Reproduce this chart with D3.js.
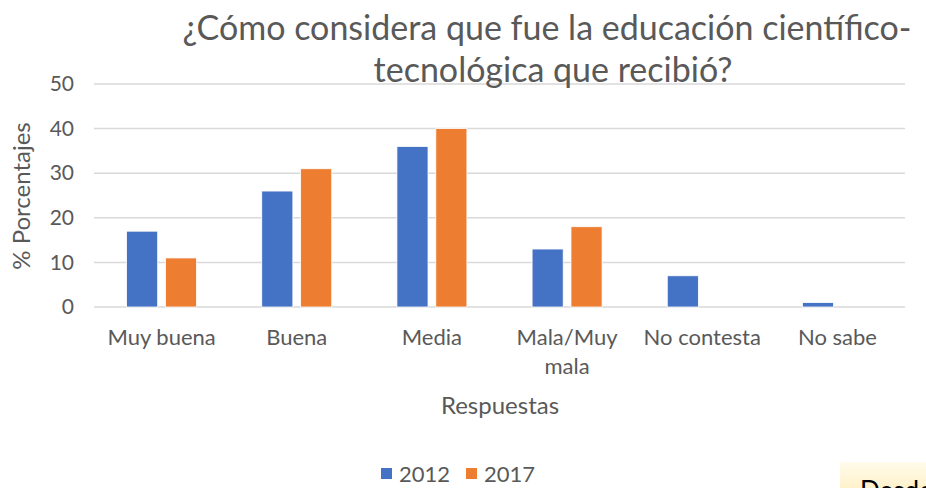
<!DOCTYPE html>
<html>
<head>
<meta charset="utf-8">
<script src="https://cdn.jsdelivr.net/npm/d3@7"></script>
<style>
  body { margin: 0; background: #fff; }
  svg { display: block; font-family: Lato, "Open Sans", sans-serif; }
</style>
</head>
<body>
<svg id="svg" width="926" height="488"></svg>
<script>
var categories = ["Muy buena", "Buena", "Media", "Mala/Muy mala", "No contesta", "No sabe"];
var series = ["2012", "2017"];
var values2012 = [17, 26, 36, 13, 7, 1];
var values2017 = [11, 31, 40, 18, 0, 0];
var yTicks = [0, 10, 20, 30, 40, 50];
var colors = ["#4472C4", "#ED7D31"];

var svg = d3.select("#svg");
var plotLeft = 94, plotRight = 905, plotTop = 84, plotBottom = 307;
var textColor = "#595959";

var x = d3.scaleBand().domain(categories).range([plotLeft, plotRight]);
var xInner = d3.scaleBand().domain(series).range([x.bandwidth() / 2 - 35, x.bandwidth() / 2 + 35]).paddingInner(0.2);
var y = d3.scaleLinear().domain([0, 50]).range([plotBottom, plotTop]);

// gridlines
svg.append("g")
  .selectAll("line")
  .data(yTicks)
  .join("line")
  .attr("x1", plotLeft)
  .attr("x2", plotRight)
  .attr("y1", d => y(d))
  .attr("y2", d => y(d))
  .attr("stroke", "#d9d9d9")
  .attr("stroke-width", 1.5);

// y axis labels
var yAxis = svg.append("g")
  .attr("transform", `translate(${plotLeft - 20}, 0)`)
  .call(d3.axisLeft(y).tickValues(yTicks).tickSize(0).tickPadding(0));
yAxis.select(".domain").remove();
yAxis.selectAll("text")
  .attr("fill", textColor)
  .style("font-family", "Lato, sans-serif")
  .style("font-size", "21px");

// bars
var data = categories.map((c, i) => ({ cat: c, vals: [values2012[i], values2017[i]] }));
svg.append("g")
  .selectAll("g")
  .data(data)
  .join("g")
  .attr("transform", d => `translate(${x(d.cat)}, 0)`)
  .selectAll("rect")
  .data(d => d.vals.map((v, j) => ({ s: series[j], v: v, c: colors[j] })))
  .join("rect")
  .attr("x", d => xInner(d.s))
  .attr("width", xInner.bandwidth())
  .attr("y", d => y(d.v))
  .attr("height", d => y(0) - y(d.v))
  .attr("fill", d => d.c)
  .attr("stroke", "#fff")
  .attr("stroke-width", d => d.v > 0 ? 0.8 : 0);

// x axis labels (wrap Mala/Muy mala)
var xLabels = svg.append("g");
categories.forEach(c => {
  var lines = c === "Mala/Muy mala" ? ["Mala/Muy", "mala"] : [c];
  var t = xLabels.append("text")
    .attr("x", x(c) + x.bandwidth() / 2)
    .attr("y", 345)
    .attr("text-anchor", "middle")
    .attr("fill", textColor)
    .style("font-size", "22px");
  lines.forEach((l, i) => {
    t.append("tspan")
      .attr("x", x(c) + x.bandwidth() / 2)
      .attr("dy", i === 0 ? 0 : 29)
      .text(l);
  });
});

// axis titles
svg.append("text")
  .attr("x", 500)
  .attr("y", 414)
  .attr("text-anchor", "middle")
  .attr("fill", textColor)
  .style("font-size", "24px")
  .text("Respuestas");

svg.append("text")
  .attr("transform", "translate(30, 196) rotate(-90)")
  .attr("text-anchor", "middle")
  .attr("fill", textColor)
  .style("font-size", "24px")
  .text("% Porcentajes");

// title
var title = svg.append("text")
  .attr("text-anchor", "middle")
  .attr("fill", textColor)
  .style("font-size", "34px");
title.append("tspan").attr("x", 547).attr("y", 40).text("¿Cómo considera que fue la educación científico-");
title.append("tspan").attr("x", 553).attr("y", 82).text("tecnológica que recibió?");

// legend
var legend = svg.append("g").attr("transform", "translate(381, 468)");
series.forEach((s, i) => {
  var g = legend.append("g").attr("transform", `translate(${i * 85}, 0)`);
  g.append("rect").attr("width", 11).attr("height", 11).attr("fill", colors[i]);
  g.append("text")
    .attr("x", 18)
    .attr("y", 14)
    .attr("fill", textColor)
    .style("font-size", "22px")
    .text(s);
});

// cut-off note box at bottom right
var grad = svg.append("defs").append("linearGradient")
  .attr("id", "note").attr("x1", 0).attr("y1", 0).attr("x2", 0).attr("y2", 1);
grad.append("stop").attr("offset", 0).attr("stop-color", "#fffbea");
grad.append("stop").attr("offset", 1).attr("stop-color", "#fff2cc");
svg.append("rect")
  .attr("x", 840).attr("y", 462).attr("width", 86).attr("height", 26)
  .attr("fill", "url(#note)");
svg.append("text")
  .attr("x", 860).attr("y", 500)
  .attr("fill", "#000")
  .style("font-size", "26px")
  .text("Desde");
</script>
</body>
</html>
